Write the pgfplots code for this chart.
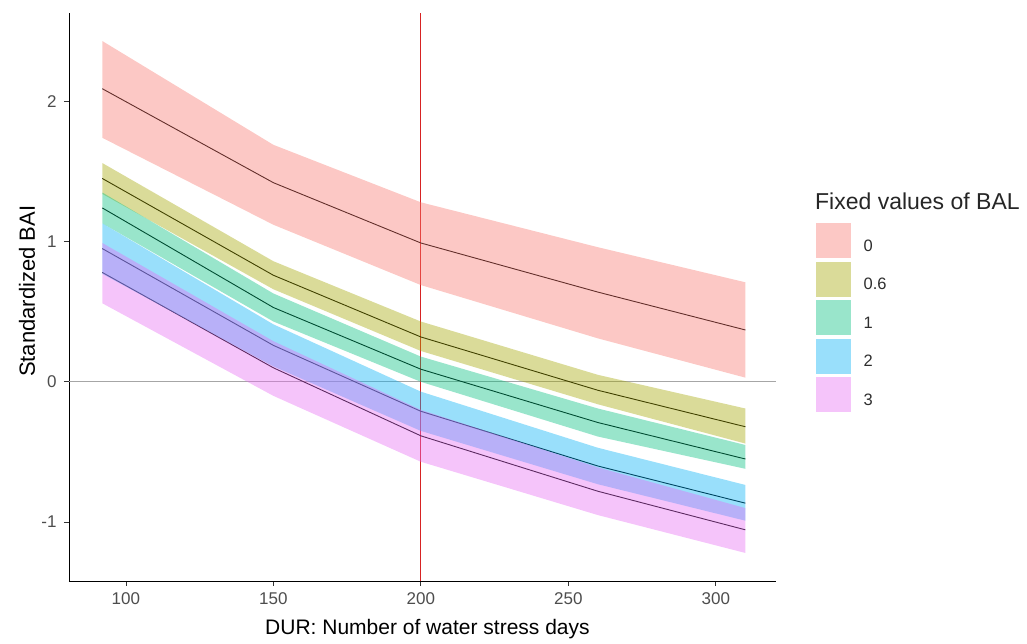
\documentclass[border=0pt]{standalone}
\usepackage{pgfplots}
\pgfplotsset{compat=1.18}
\usepgfplotslibrary{fillbetween}
\usepackage{pgfplotstable}
\usepackage{fontspec}
\setmainfont{Liberation Sans}

\definecolor{cA}{HTML}{F8766D}
\definecolor{cB}{HTML}{A3A500}
\definecolor{cC}{HTML}{00BF7D}
\definecolor{cD}{HTML}{00B0F6}
\definecolor{cE}{HTML}{E76BF3}
\definecolor{vred}{RGB}{215,35,35}
\definecolor{tickgray}{HTML}{4D4D4D}

\pgfplotstableread{
x lo mid hi
92 1.74 2.09 2.43
150 1.12 1.42 1.69
200 0.69 0.99 1.28
260 0.31 0.64 0.96
310 0.03 0.37 0.71
}\balA
\pgfplotstableread{
x lo mid hi
92 1.34 1.45 1.56
150 0.66 0.76 0.86
200 0.22 0.32 0.43
260 -0.16 -0.06 0.05
310 -0.44 -0.32 -0.19
}\balB
\pgfplotstableread{
x lo mid hi
92 1.13 1.24 1.35
150 0.43 0.53 0.63
200 0.00 0.09 0.18
260 -0.39 -0.29 -0.19
310 -0.62 -0.55 -0.45
}\balC
\pgfplotstableread{
x lo mid hi
92 0.77 0.95 1.13
150 0.11 0.26 0.41
200 -0.35 -0.21 -0.07
260 -0.73 -0.60 -0.47
310 -0.99 -0.865 -0.735
}\balD
\pgfplotstableread{
x lo mid hi
92 0.56 0.78 0.99
150 -0.10 0.10 0.29
200 -0.57 -0.385 -0.20
260 -0.95 -0.78 -0.61
310 -1.22 -1.055 -0.90
}\balE

\begin{document}
\begin{tikzpicture}
\begin{axis}[
  name=main,
  width=707pt, height=568pt, scale only axis,
  xmin=80.7, xmax=320.4, ymin=-1.42, ymax=2.63,
  axis lines=left, axis line style={-, black, line width=0.8pt},
  xtick={100,150,200,250,300}, xticklabels={100,150,200,250,300},
  ytick={-1,0,1,2}, yticklabels={-1,0,1,2},
  tick align=outside, major tick length=5pt,
  tick style={black!80, line width=0.8pt},
  ticklabel style={font=\fontsize{17}{20}\selectfont, text=tickgray},
  xticklabel style={yshift=-3pt},
  yticklabel style={xshift=-4pt},
  xlabel={DUR: Number of water stress days},
  ylabel={Standardized BAI},
  label style={font=\fontsize{21}{25}\selectfont, text=black},
  xlabel style={at={(axis description cs:0.507,-0.085)}, anchor=center},
  ylabel style={at={(axis description cs:-0.0594,0.51)}, anchor=center, font=\fontsize{22}{26}\selectfont},
  clip=false,
  legend style={at={(1.0566,0.630)}, anchor=north west, draw=none, fill=none,
    inner sep=0pt, row sep=4pt, column sep=13pt,
    nodes={inner sep=0pt},
    font=\fontsize{16.5}{19}\selectfont, text=tickgray!60!black},
  legend cell align=left,
]
% reference lines
\addplot[forget plot, gray!70, line width=0.8pt] coordinates {(80.7,0) (320.4,0)};
\addplot[forget plot, vred, line width=1pt] coordinates {(200,-1.42) (200,2.63)};
% fitted lines (drawn beneath the ribbons)
\addplot[forget plot, black, line width=0.9pt] table[x=x,y=mid]{\balA};
\addplot[forget plot, black, line width=0.9pt] table[x=x,y=mid]{\balB};
\addplot[forget plot, black, line width=0.9pt] table[x=x,y=mid]{\balC};
\addplot[forget plot, black, line width=0.9pt] table[x=x,y=mid]{\balD};
\addplot[forget plot, black, line width=0.9pt] table[x=x,y=mid]{\balE};
% ribbons
\addplot[forget plot, draw=none, name path=Ahi] table[x=x,y=hi]{\balA};
\addplot[forget plot, draw=none, name path=Alo] table[x=x,y=lo]{\balA};
\addplot[forget plot, fill=cA, fill opacity=0.4, draw=none] fill between[of=Ahi and Alo, on layer=main];
\addplot[forget plot, draw=none, name path=Bhi] table[x=x,y=hi]{\balB};
\addplot[forget plot, draw=none, name path=Blo] table[x=x,y=lo]{\balB};
\addplot[forget plot, fill=cB, fill opacity=0.4, draw=none] fill between[of=Bhi and Blo, on layer=main];
\addplot[forget plot, draw=none, name path=Chi] table[x=x,y=hi]{\balC};
\addplot[forget plot, draw=none, name path=Clo] table[x=x,y=lo]{\balC};
\addplot[forget plot, fill=cC, fill opacity=0.4, draw=none] fill between[of=Chi and Clo, on layer=main];
\addplot[forget plot, draw=none, name path=Dhi] table[x=x,y=hi]{\balD};
\addplot[forget plot, draw=none, name path=Dlo] table[x=x,y=lo]{\balD};
\addplot[forget plot, fill=cD, fill opacity=0.4, draw=none] fill between[of=Dhi and Dlo, on layer=main];
\addplot[forget plot, draw=none, name path=Ehi] table[x=x,y=hi]{\balE};
\addplot[forget plot, draw=none, name path=Elo] table[x=x,y=lo]{\balE};
\addplot[forget plot, fill=cE, fill opacity=0.4, draw=none] fill between[of=Ehi and Elo, on layer=main];
% legend
\addlegendimage{legend image code/.code={\fill[cA!40!white] (0pt,-11pt) rectangle (34pt,23pt);}}
\addlegendentry{0}
\addlegendimage{legend image code/.code={\fill[cB!40!white] (0pt,-11pt) rectangle (34pt,23pt);}}
\addlegendentry{0.6}
\addlegendimage{legend image code/.code={\fill[cC!40!white] (0pt,-11pt) rectangle (34pt,23pt);}}
\addlegendentry{1}
\addlegendimage{legend image code/.code={\fill[cD!40!white] (0pt,-11pt) rectangle (34pt,23pt);}}
\addlegendentry{2}
\addlegendimage{legend image code/.code={\fill[cE!40!white] (0pt,-11pt) rectangle (34pt,23pt);}}
\addlegendentry{3}
\node[anchor=north west, inner sep=0pt, font=\fontsize{23}{27}\selectfont, text=black!85]
  at (rel axis cs:1.0551,0.683) {Fixed values of BAL};
\end{axis}
\pgfresetboundingbox
\path ([xshift=-69pt,yshift=-63pt]main.south west) rectangle ([xshift=251pt,yshift=13pt]main.north east);
\end{tikzpicture}
\end{document}
